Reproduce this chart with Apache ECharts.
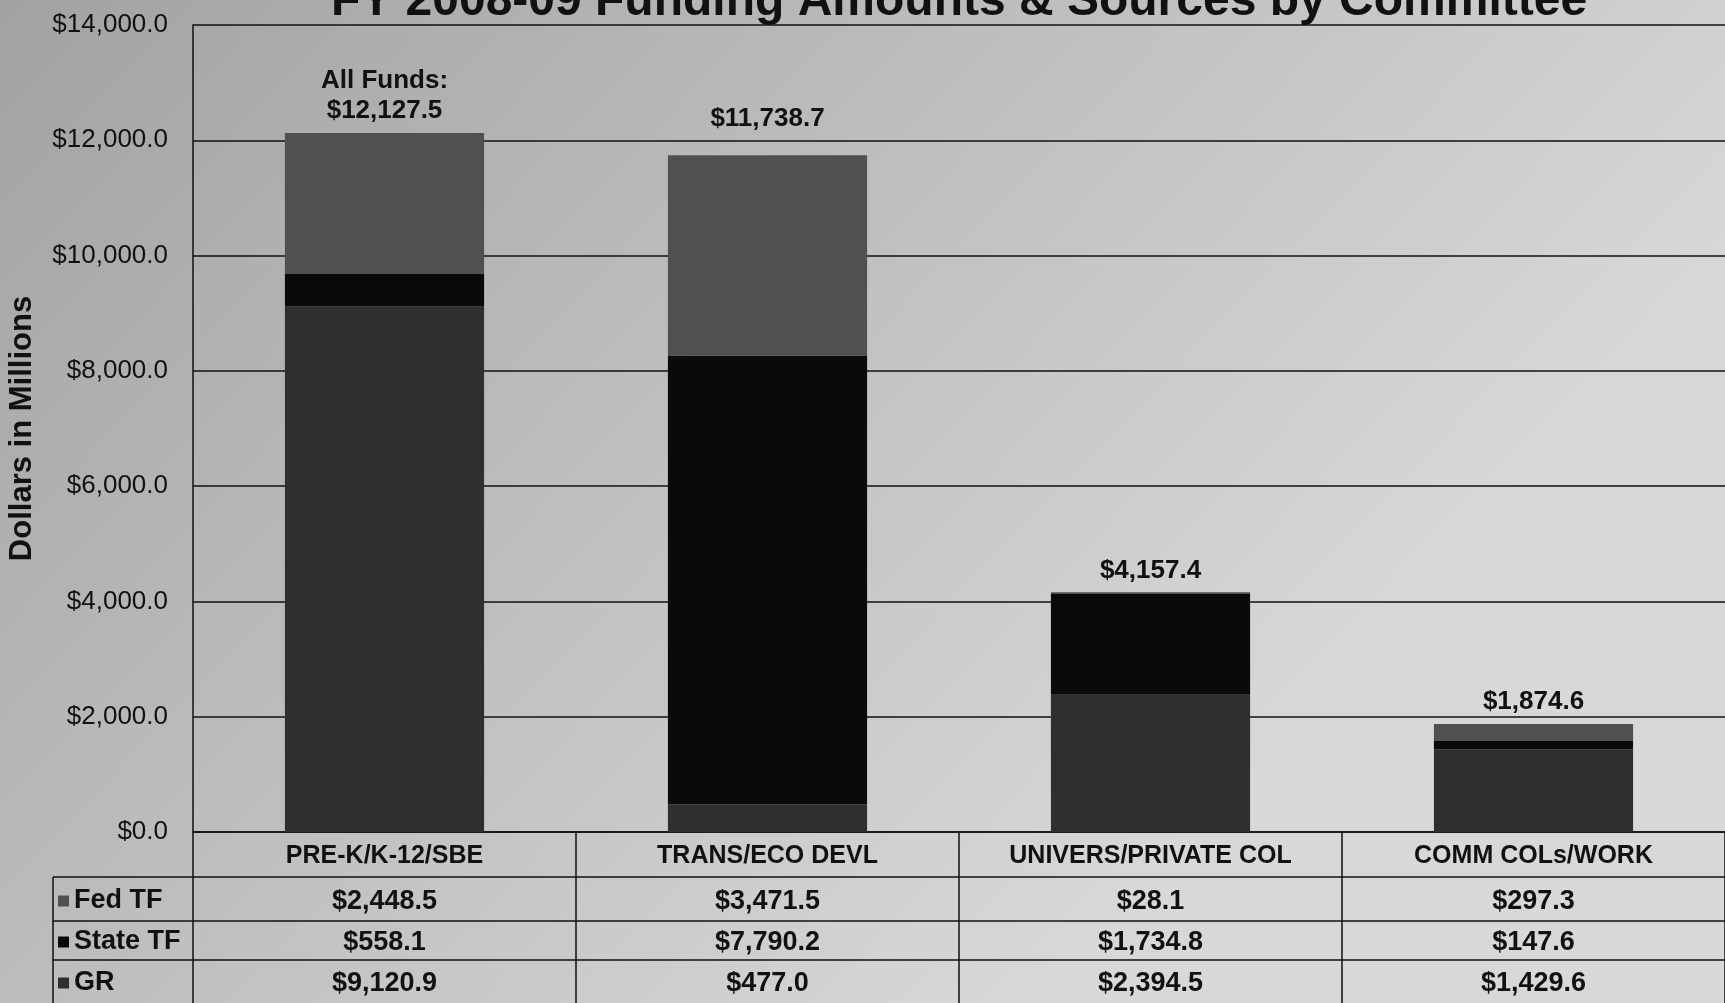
<!DOCTYPE html>
<html>
<head>
<meta charset="utf-8">
<script src="https://cdn.jsdelivr.net/npm/echarts@6/dist/echarts.min.js"></script>
<style>
html, body { margin: 0; padding: 0; }
#funding_chart { width: 1725px; height: 1003px; }
</style>
</head>
<body>
<div id="funding_chart"></div>
<script>
// FY 2008-09 funding by committee, dollars in millions
var committees = ['PRE-K/K-12/SBE', 'TRANS/ECO DEVL', 'UNIVERS/PRIVATE COL', 'COMM COLs/WORK'];
var fedTF    = [2448.5, 3471.5, 28.1, 297.3];
var stateTF  = [558.1, 7790.2, 1734.8, 147.6];
var gr       = [9120.9, 477.0, 2394.5, 1429.6];
var allFunds = [12127.5, 11738.7, 4157.4, 1874.6];
var sourceNames = ['Fed TF', 'State TF', 'GR'];
var yMin = 0, yMax = 14000, yStep = 2000;

var FONT = "'Liberation Sans', Arial, sans-serif";
var INK = '#111';

function money(v) {
    return '$' + v.toLocaleString('en-US', {minimumFractionDigits: 1, maximumFractionDigits: 1});
}

// table below the plot
var gridLeft = 193, gridTop = 25, gridBottom = 171;
var tableTop = 1003 - gridBottom;
var rowH = [45, 44, 39, 43];
var tableLeft = 53;

function rowAxis(labels, offset, tick, margin, size) {
    return {
        type: 'category',
        data: committees,
        position: 'bottom',
        offset: offset,
        axisLine: {show: true, lineStyle: {color: INK, width: 1.5}},
        axisTick: {show: true, length: tick, lineStyle: {color: INK, width: 1.5}},
        axisLabel: {
            interval: 0,
            margin: margin,
            fontFamily: FONT, fontWeight: 'bold', fontSize: size, color: INK,
            formatter: function (v, i) { return labels[i]; }
        },
        splitLine: {show: false}
    };
}

var xAxes = [
    rowAxis(committees, 0, rowH[0], 12, 25),
    rowAxis(fedTF.map(money), rowH[0], rowH[1], 11, 27),
    rowAxis(stateTF.map(money), rowH[0] + rowH[1], rowH[2], 8, 27),
    rowAxis(gr.map(money), rowH[0] + rowH[1] + rowH[2], rowH[3], 10, 27)
];

var y1 = tableTop + rowH[0], y2 = y1 + rowH[1], y3 = y2 + rowH[2];
var lineStyle = {stroke: INK, lineWidth: 1.5};
var tableLines = [
    {type: 'line', shape: {x1: tableLeft, y1: y1, x2: gridLeft, y2: y1}, style: lineStyle},
    {type: 'line', shape: {x1: tableLeft, y1: y2, x2: gridLeft, y2: y2}, style: lineStyle},
    {type: 'line', shape: {x1: tableLeft, y1: y3, x2: gridLeft, y2: y3}, style: lineStyle},
    {type: 'line', shape: {x1: tableLeft, y1: y1, x2: tableLeft, y2: 1003}, style: lineStyle}
];

var option = {
    backgroundColor: {
        type: 'linear', x: 0, y: 0, x2: 0.6, y2: 1,
        colorStops: [{offset: 0, color: '#a2a2a2'}, {offset: 1, color: '#d8d8d8'}]
    },
    animation: false,
    graphic: [
        {
            type: 'text', x: 959, y: 26,
            style: {
                text: 'FY 2008-09 Funding Amounts & Sources by Committee',
                font: "bold 48px " + FONT, fill: INK,
                align: 'center', verticalAlign: 'bottom'
            }
        }
    ].concat(tableLines),
    legend: {
        orient: 'vertical',
        left: tableLeft + 5,
        top: y1 + 10,
        padding: 0,
        itemGap: 13,
        itemWidth: 11,
        itemHeight: 11,
        itemStyle: {borderWidth: 0},
        icon: 'rect',
        data: sourceNames,
        textStyle: {fontFamily: FONT, fontWeight: 'bold', fontSize: 27, lineHeight: 28, color: INK}
    },
    grid: {
        left: gridLeft, right: 0, top: gridTop, bottom: gridBottom,
        outerBoundsMode: 'none', containLabel: false
    },
    xAxis: xAxes,
    yAxis: {
        type: 'value',
        min: yMin, max: yMax, interval: yStep,
        name: 'Dollars in Millions',
        nameLocation: 'middle',
        nameRotate: 90,
        nameGap: 155,
        nameTextStyle: {fontFamily: FONT, fontWeight: 'bold', fontSize: 31, color: INK},
        axisLine: {show: true, lineStyle: {color: INK, width: 1.5}},
        axisTick: {show: false},
        axisLabel: {
            margin: 25,
            fontFamily: FONT, fontSize: 26, color: INK,
            formatter: function (v) { return money(v); }
        },
        splitLine: {show: true, lineStyle: {color: INK, width: 1.5}}
    },
    series: [
        {
            name: 'GR', type: 'bar', stack: 'funds', barWidth: '52%',
            itemStyle: {color: '#2f2f2f'},
            data: gr
        },
        {
            name: 'State TF', type: 'bar', stack: 'funds',
            itemStyle: {color: '#0a0a0a'},
            data: stateTF
        },
        {
            name: 'Fed TF', type: 'bar', stack: 'funds',
            itemStyle: {color: '#505050'},
            data: fedTF.map(function (v, i) {
                return i === 1 ? {value: v, label: {distance: 22}} : v;
            }),
            label: {
                show: true, position: 'top', distance: 7,
                fontFamily: FONT, fontWeight: 'bold', fontSize: 26, color: INK, lineHeight: 30,
                formatter: function (p) {
                    var total = money(allFunds[p.dataIndex]);
                    return p.dataIndex === 0 ? 'All Funds:\n' + total : total;
                }
            }
        }
    ]
};

var funding_chart = echarts.init(document.getElementById('funding_chart'));
funding_chart.setOption(option);
</script>
</body>
</html>
